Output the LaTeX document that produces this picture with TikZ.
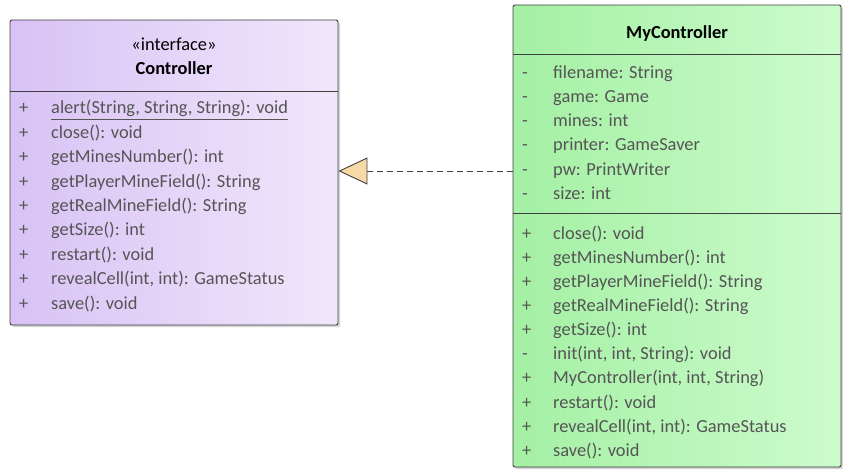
\documentclass[tikz,border=0pt]{standalone}
\usepackage{fontspec}
\setmainfont{Carlito}
\usetikzlibrary{arrows.meta,shadows}

\definecolor{ifaceleft}{HTML}{D8C2F5}
\definecolor{ifaceright}{HTML}{F1E7FB}
\definecolor{classleft}{HTML}{A4F0A4}
\definecolor{classright}{HTML}{CDFBCD}
\definecolor{boxline}{HTML}{404040}
\definecolor{membertext}{HTML}{555555}
\definecolor{tipfill}{HTML}{F7D9A8}

\begin{document}
\begin{tikzpicture}[x=1pt,y=-1pt,
  umlbox/.style={draw=boxline,line width=0.9pt,rounded corners=2pt,
    drop shadow={shadow xshift=2pt,shadow yshift=-2pt,opacity=0.35},
    minimum width=328pt,inner sep=0pt},
  member/.style={anchor=mid west,inner sep=0pt,text=membertext,
    font=\fontsize{18.4}{21}\selectfont},
  title/.style={inner sep=0pt,font=\fontsize{18.4}{21}\selectfont\bfseries},
  realizes/.style={dashed,dash pattern=on 6pt off 4pt,draw=boxline,line width=0.9pt,
    -{Triangle[length=29pt,width=27pt,fill=tipfill,line width=0.9pt]}}]
\useasboundingbox (0,0) rectangle (843,470);

% the interface
\node[umlbox,minimum height=305pt,left color=ifaceleft,right color=ifaceright]
  (ctrl) at (174,172.5) {};
\node[inner sep=0pt,font=\fontsize{18.4}{21}\selectfont] (stereo) at (174,44) {«interface»};
\node[title] (ctrlname) at (174,68) {Controller};
\draw[boxline,line width=0.9pt] (ctrl.west |- 0,91) -- (ctrl.east |- 0,91);
\node[member] (ctrlsign0) at (19,111.5) {+};
\node[member] (ctrlop0) at (51,111.5) {alert(String, String, String): void};
\draw[membertext,line width=0.7pt] ([yshift=-2.5pt]ctrlop0.south west) -- ([yshift=-2.5pt]ctrlop0.south east);
\foreach \op [count=\i] in {close(): void,getMinesNumber(): int,
    getPlayerMineField(): String,getRealMineField(): String,getSize(): int,
    restart(): void,{revealCell(int, int): GameStatus},save(): void}
  {\node[member] (ctrlsign\i) at (19,111.5+24.4*\i) {+};
   \node[member] (ctrlop\i) at (51,111.5+24.4*\i) {\op};}

% the implementing class
\node[umlbox,minimum height=462pt,left color=classleft,right color=classright]
  (myctrl) at (677,236) {};
\node[title] (myctrlname) at (677,33) {MyController};
\draw[boxline,line width=0.9pt] (myctrl.west |- 0,54) -- (myctrl.east |- 0,54);
\draw[boxline,line width=0.9pt] (myctrl.west |- 0,213) -- (myctrl.east |- 0,213);
\foreach \attr [count=\i from 0] in {filename: String,game: Game,mines: int,
    printer: GameSaver,pw: PrintWriter,size: int}
  {\node[member] (attrsign\i) at (522,76+24.2*\i) {-};
   \node[member] (attr\i) at (553,76+24.2*\i) {\attr};}
\foreach \sign/\op [count=\i from 0] in {+/close(): void,+/getMinesNumber(): int,
    +/getPlayerMineField(): String,+/getRealMineField(): String,+/getSize(): int,
    -/{init(int, int, String): void},+/{MyController(int, int, String)},
    +/restart(): void,+/{revealCell(int, int): GameStatus},+/save(): void}
  {\node[member] (opsign\i) at (522,237+24.1*\i) {\sign};
   \node[member] (op\i) at (553,237+24.1*\i) {\op};}

% realization
\coordinate (impl) at (myctrl.west |- 0,171);
\draw[realizes] (impl) -- (impl -| ctrl.east);
\end{tikzpicture}
\end{document}
